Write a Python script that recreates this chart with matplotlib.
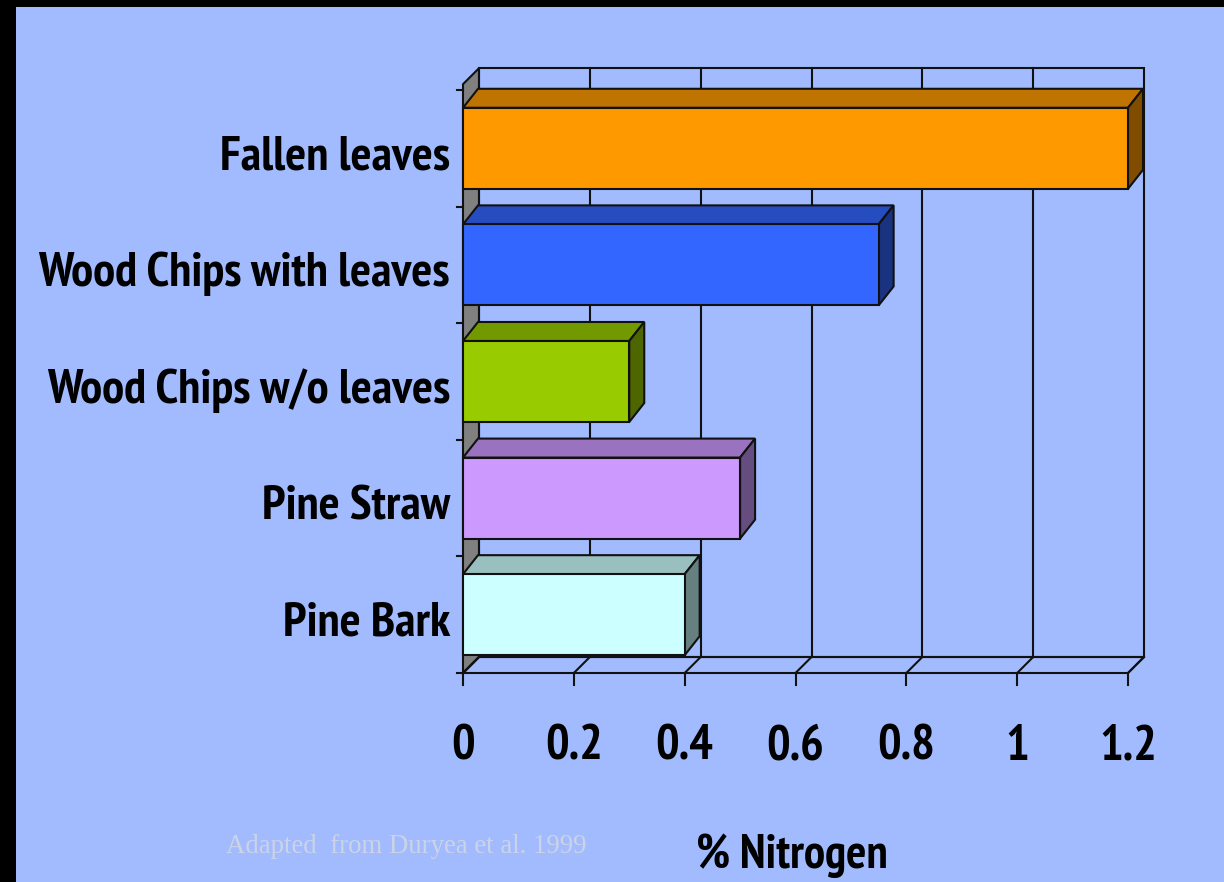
import numpy as np
import matplotlib
matplotlib.use("Agg")
import matplotlib.pyplot as plt
from matplotlib.patches import Polygon, Rectangle
from matplotlib import font_manager as fm

# ---------------- data ----------------
categories = ["Fallen leaves", "Wood Chips with leaves", "Wood Chips w/o leaves",
              "Pine Straw", "Pine Bark"]
values = [1.2, 0.75, 0.3, 0.5, 0.4]
front_colors = ["#FF9900", "#3366FF", "#99CC00", "#CC99FF", "#CCFFFF"]
x_ticks = [0, 0.2, 0.4, 0.6, 0.8, 1.0, 1.2]
x_tick_labels = ["0", "0.2", "0.4", "0.6", "0.8", "1", "1.2"]
x_label = "% Nitrogen"
source_note = "Adapted  from Duryea et al. 1999"

# ---------------- fonts ----------------
def _w(f):
    w = f.weight
    if isinstance(w, str):
        w = fm.weight_dict.get(w, 400)
    return w

def pick_bold_condensed():
    ttf = fm.fontManager.ttflist
    for f in ttf:
        if f.name == "Liberation Sans Narrow" and _w(f) >= 700 and f.style == "normal":
            return fm.FontProperties(fname=f.fname)
    for f in ttf:
        if "Narrow" in f.fname and "Bold" in f.fname and "Italic" not in f.fname:
            return fm.FontProperties(fname=f.fname)
    for f in ttf:
        if f.name == "DejaVu Sans" and "ondensed" in str(f.stretch) and _w(f) >= 700 \
                and f.style == "normal":
            return fm.FontProperties(fname=f.fname)
    for f in ttf:
        if "Condensed-Bold" in f.fname and "Oblique" not in f.fname:
            return fm.FontProperties(fname=f.fname)
    return fm.FontProperties(family="Liberation Sans", weight="bold")

bold_fp = pick_bold_condensed()
serif_fp = fm.FontProperties(family=["Liberation Serif", "DejaVu Serif"])

# ---------------- figure / pixel-like data mapping ----------------
W, H = 1224, 882
fig = plt.figure(figsize=(W / 100, H / 100), dpi=100, facecolor="black")
ax = fig.add_axes([0, 0, 1, 1])
X0PX, XSCALE = 463.0, 554.17   # pixel of value 0, pixels per unit value
Y0PX, YSCALE = 673.0, 116.6    # pixel of category floor, pixels per category
ax.set_xlim(-X0PX / XSCALE, (W - X0PX) / XSCALE)
ax.set_ylim((Y0PX - H) / YSCALE, Y0PX / YSCALE)
ax.axis("off")

def px2x(p):
    return (p - X0PX) / XSCALE

def px2y(p):
    return (Y0PX - p) / YSCALE

BG = "#A1BBFE"
ax.add_patch(Rectangle((px2x(16), px2y(H)), (W - 16) / XSCALE, (H - 7) / YSCALE,
                       facecolor=BG, edgecolor="none", zorder=0))

ncat = len(categories)
xmax = x_ticks[-1]
wdx, wdy = 16 / XSCALE, 16 / YSCALE          # wall depth
bdx, bdy = 15 / XSCALE, 19 / YSCALE          # bar depth
ctop = ncat + 0.05
LW = 1.5
EC = "#111111"

# side wall (left)
ax.add_patch(Polygon([(0, 0), (0, ctop), (wdx, ctop + wdy), (wdx, wdy)], closed=True,
                     facecolor="#808080", edgecolor=EC, lw=LW, zorder=1))
# back wall
ax.add_patch(Rectangle((wdx, wdy), xmax, ctop, facecolor="none", edgecolor=EC,
                       lw=LW, zorder=1))
for t in x_ticks[1:-1]:
    ax.plot([t + wdx, t + wdx], [wdy, ctop + wdy], color=EC, lw=LW, zorder=1)
# floor
ax.add_patch(Polygon([(0, 0), (xmax, 0), (xmax + wdx, wdy), (wdx, wdy)], closed=True,
                     facecolor="none", edgecolor=EC, lw=LW, zorder=1))
for t in x_ticks:
    ax.plot([t, t + wdx], [0, wdy], color=EC, lw=LW, zorder=1)
    ax.plot([t, t], [0, -12 / YSCALE], color=EC, lw=LW, zorder=1)
for c in range(ncat + 1):
    ax.plot([-6 / XSCALE, 0], [c, c], color=EC, lw=LW, zorder=1)

# bars
half = 0.3475
for i, (cat, v, col) in enumerate(zip(categories, values, front_colors)):
    cc = ncat - 0.5 - i
    b, t = cc - half, cc + half
    rgb = np.array(matplotlib.colors.to_rgb(col))
    top_c, side_c = rgb * 0.75, rgb * 0.5
    ax.add_patch(Polygon([(0, t), (v, t), (v + bdx, t + bdy), (bdx, t + bdy)], closed=True,
                         facecolor=top_c, edgecolor=EC, lw=LW, zorder=3))
    ax.add_patch(Polygon([(v, b), (v + bdx, b + bdy), (v + bdx, t + bdy), (v, t)], closed=True,
                         facecolor=side_c, edgecolor=EC, lw=LW, zorder=3))
    ax.add_patch(Rectangle((0, b), v, t - b, facecolor=col, edgecolor=EC, lw=LW, zorder=4))

# ---------------- text ----------------
renderer = fig.canvas.get_renderer()

def fit_size(s, fp, target_w):
    tmp = ax.text(0, 0, s, fontproperties=fp, fontsize=100)
    wpx = tmp.get_window_extent(renderer).width
    tmp.remove()
    return 100.0 * target_w / wpx

lab_size = fit_size("Wood Chips with leaves", bold_fp, 412)
for i, cat in enumerate(categories):
    cc = ncat - 0.5 - i
    ax.text(px2x(450), cc - 21 / YSCALE, cat, fontproperties=bold_fp, fontsize=lab_size,
            ha="right", va="baseline", color="black", zorder=5)

tick_size = fit_size("0.2", bold_fp, 58)
for t, s in zip(x_ticks, x_tick_labels):
    ax.text(t, px2y(760), s, fontproperties=bold_fp, fontsize=tick_size,
            ha="center", va="baseline", color="black", zorder=5)

xl_size = fit_size(x_label, bold_fp, 192)
ax.text(px2x(792), px2y(868), x_label, fontproperties=bold_fp, fontsize=xl_size,
        ha="center", va="baseline", color="black", zorder=5)

src_size = fit_size(source_note, serif_fp, 361)
ax.text(px2x(226), px2y(853), source_note, fontproperties=serif_fp, fontsize=src_size,
        ha="left", va="baseline", color="#CDD3E6", zorder=5)

fig.savefig("out.png", dpi=100, facecolor="black")
